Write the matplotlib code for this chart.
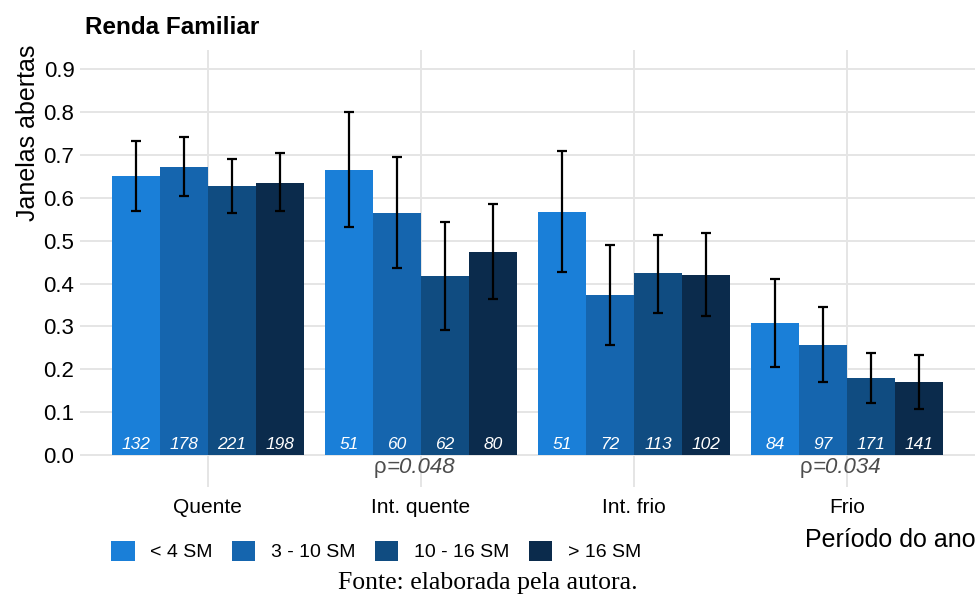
import numpy as np
import matplotlib.pyplot as plt
from matplotlib.patches import Patch

periods = ['Quente', 'Int. quente', 'Int. frio', 'Frio']
groups = ['< 4 SM', '3 - 10 SM', '10 - 16 SM', '> 16 SM']
colors = ['#1a7fd8', '#1565ae', '#104c81', '#0b2b4c']

# proportion of open windows, one list per income group (Quente..Frio)
mean_lt4 = [0.650, 0.664, 0.566, 0.308]
mean_3_10 = [0.671, 0.564, 0.373, 0.256]
mean_10_16 = [0.627, 0.417, 0.424, 0.179]
mean_gt16 = [0.634, 0.473, 0.420, 0.170]

low_lt4 = [0.569, 0.531, 0.427, 0.205]
low_3_10 = [0.604, 0.436, 0.256, 0.170]
low_10_16 = [0.564, 0.291, 0.331, 0.121]
low_gt16 = [0.569, 0.364, 0.324, 0.107]

high_lt4 = [0.732, 0.800, 0.709, 0.410]
high_3_10 = [0.741, 0.695, 0.490, 0.345]
high_10_16 = [0.690, 0.543, 0.513, 0.238]
high_gt16 = [0.704, 0.585, 0.517, 0.233]

n_lt4 = [132, 51, 51, 84]
n_3_10 = [178, 60, 72, 97]
n_10_16 = [221, 62, 113, 171]
n_gt16 = [198, 80, 102, 141]

p_values = ['', '0.048', '', '0.034']

means = [mean_lt4, mean_3_10, mean_10_16, mean_gt16]
lows = [low_lt4, low_3_10, low_10_16, low_gt16]
highs = [high_lt4, high_3_10, high_10_16, high_gt16]
counts = [n_lt4, n_3_10, n_10_16, n_gt16]

plt.rcParams['font.family'] = ['Liberation Sans', 'DejaVu Sans']

fig = plt.figure(figsize=(9.76, 6.03), dpi=100)
ax = fig.add_axes([0.082, 0.192, 0.917, 0.725])

x = np.arange(1, len(periods) + 1)
width = 0.225
for i, g in enumerate(groups):
    pos = x + (i - 1.5) * width
    m = np.array(means[i])
    err = [m - np.array(lows[i]), np.array(highs[i]) - m]
    ax.bar(pos, m, width=width, color=colors[i], zorder=2)
    ax.errorbar(pos, m, yerr=err, fmt='none', ecolor='black',
                elinewidth=1.6, capsize=3.5, capthick=1.6, zorder=3)
    for xp, n in zip(pos, counts[i]):
        ax.text(xp, 0.026, str(n), ha='center', va='center', color='white',
                style='italic', fontsize=12.5, zorder=4)

for xp, p in zip(x, p_values):
    if p:
        ax.annotate('ρ', (xp, -0.028), xytext=(-25, 0),
                    textcoords='offset points', ha='right', va='center',
                    color='#4d4d4d', fontsize=16)
        ax.annotate('=' + p, (xp, -0.028), xytext=(-25, 0),
                    textcoords='offset points', ha='left', va='center',
                    color='#4d4d4d', fontsize=16, style='italic')

ax.set_xlim(0.4, 4.6)
ax.set_ylim(-0.0746, 0.944)
ax.set_xticks(x)
ax.set_xticklabels(periods, fontsize=15)
ax.set_yticks(np.arange(0, 0.91, 0.1))
ax.set_yticklabels(['%.1f' % v for v in np.arange(0, 0.91, 0.1)],
                   fontsize=16)
ax.tick_params(length=0, pad=4)
ax.tick_params(axis='x', pad=8)
ax.grid(True, color='#e5e5e5', linewidth=1.4, zorder=0)
ax.set_axisbelow(True)
for s in ax.spines.values():
    s.set_visible(False)

# y title sits at the top left, as in the original
fig.text(40 / 976, 1 - 45 / 603, 'Janelas abertas', fontsize=18,
         rotation=90, rotation_mode='anchor', ha='right', va='bottom')
fig.text(85 / 976, 1 - 28 / 603, 'Renda Familiar', fontsize=17.5,
         fontweight='bold', ha='left', va='center')
fig.text(976 / 976, 1 - 540 / 603, 'Período do ano', fontsize=18,
         ha='right', va='center')

handles = [Patch(facecolor=c) for c in colors]
fig.legend(handles, groups, loc='center', ncol=4, frameon=False,
           bbox_to_anchor=(376 / 976, 1 - 551 / 603), fontsize=14,
           handlelength=1.2, handleheight=1.2, columnspacing=1.0,
           handletextpad=0.8)

fig.text(488 / 976, 1 - 583 / 603, 'Fonte: elaborada pela autora.',
         family=['Liberation Serif', 'DejaVu Serif'], fontsize=18.5,
         ha='center', va='center')

fig.savefig('out.png', dpi=100)
